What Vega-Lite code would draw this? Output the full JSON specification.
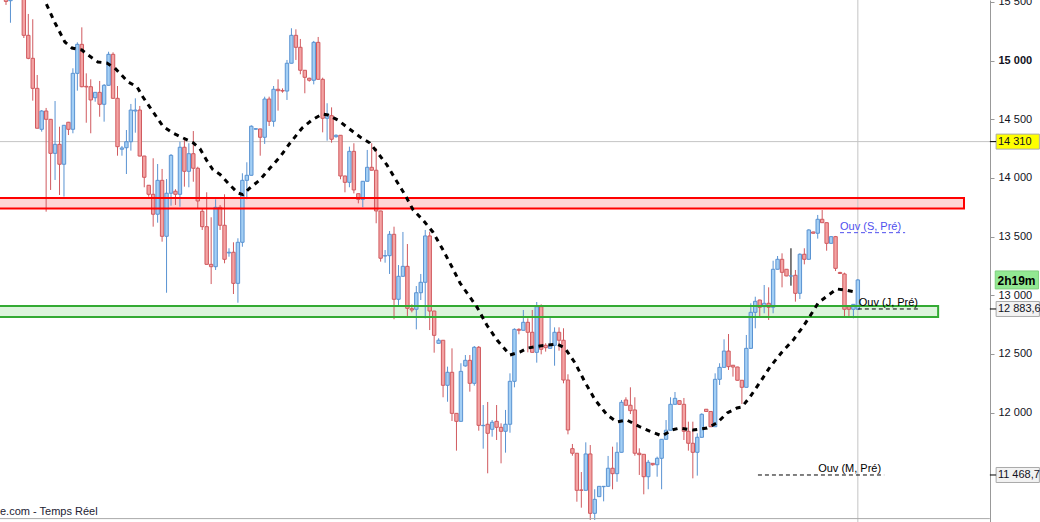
{
"$schema":"https://vega.github.io/schema/vega-lite/v6.json",
"width":1040,"height":522,"padding":0,"autosize":{"type":"none"},
"background":"white",
"config":{"view":{"stroke":null},"text":{"font":"Liberation Sans"}},
"datasets":{
"candles":[
{"i":0,"o":15545,"h":15560,"l":15475,"c":15505},{"i":1,"o":15511,"h":15610,"l":15323,"c":15590},{"i":2,"o":15580,"h":15730,"l":15550,"c":15700},{"i":3,"o":15700,"h":15720,"l":15560,"c":15640},
{"i":4,"o":15640,"h":15660,"l":15193,"c":15216},{"i":5,"o":15216,"h":15398,"l":15012,"c":15020},{"i":6,"o":15020,"h":15353,"l":14659,"c":14764},{"i":7,"o":14764,"h":14878,"l":14424,"c":14424},
{"i":8,"o":14415,"h":14579,"l":14395,"c":14571},{"i":9,"o":14571,"h":14597,"l":13713,"c":14500},{"i":10,"o":14500,"h":14503,"l":13898,"c":14210},{"i":11,"o":14210,"h":14656,"l":13983,"c":14287},
{"i":12,"o":14287,"h":14437,"l":13855,"c":14117},{"i":13,"o":14117,"h":14452,"l":13841,"c":14449},{"i":14,"o":14475,"h":14478,"l":14366,"c":14415},{"i":15,"o":14415,"h":14935,"l":14381,"c":14892},
{"i":16,"o":14892,"h":15156,"l":14744,"c":15139},{"i":17,"o":15139,"h":15284,"l":14773,"c":14778},{"i":18,"o":14781,"h":14892,"l":14471,"c":14776},{"i":19,"o":14778,"h":14841,"l":14381,"c":14665},
{"i":20,"o":14684,"h":14732,"l":14650,"c":14730},{"i":21,"o":14730,"h":14827,"l":14522,"c":14628},{"i":22,"o":14628,"h":14801,"l":14480,"c":14790},{"i":23,"o":14790,"h":15076,"l":14788,"c":15054},
{"i":24,"o":15054,"h":15071,"l":14677,"c":14679},{"i":25,"o":14679,"h":14784,"l":14190,"c":14267},{"i":26,"o":14245,"h":14273,"l":14190,"c":14256},{"i":27,"o":14258,"h":14409,"l":14034,"c":14309},
{"i":28,"o":14309,"h":14631,"l":14233,"c":14579},{"i":29,"o":14571,"h":14679,"l":14386,"c":14579},{"i":30,"o":14579,"h":14614,"l":14185,"c":14187},{"i":31,"o":14187,"h":14189,"l":13921,"c":14006},
{"i":32,"o":13938,"h":13940,"l":13841,"c":13861},{"i":33,"o":13861,"h":14168,"l":13585,"c":13691},{"i":34,"o":13691,"h":14119,"l":13619,"c":13980},{"i":35,"o":13980,"h":14077,"l":13457,"c":13503},
{"i":36,"o":13503,"h":13991,"l":13022,"c":13870},{"i":37,"o":13870,"h":14204,"l":13764,"c":14193},{"i":38,"o":13887,"h":13904,"l":13770,"c":13861},{"i":39,"o":13861,"h":14309,"l":13755,"c":14262},
{"i":40,"o":14262,"h":14338,"l":13926,"c":14057},{"i":41,"o":14057,"h":14296,"l":13921,"c":14207},{"i":42,"o":14207,"h":14400,"l":13968,"c":14083},{"i":43,"o":14083,"h":14096,"l":13742,"c":13804},
{"i":44,"o":13716,"h":13742,"l":13557,"c":13585},{"i":45,"o":13585,"h":13878,"l":13262,"c":13264},{"i":46,"o":13264,"h":13665,"l":13096,"c":13244},{"i":47,"o":13244,"h":13818,"l":13216,"c":13750},
{"i":48,"o":13750,"h":13770,"l":13557,"c":13597},{"i":49,"o":13597,"h":13861,"l":13273,"c":13307},{"i":50,"o":13361,"h":13401,"l":13329,"c":13367},{"i":51,"o":13367,"h":13452,"l":13011,"c":13102},
{"i":52,"o":13102,"h":13486,"l":12937,"c":13452},{"i":53,"o":13452,"h":14040,"l":13414,"c":13980},{"i":54,"o":13980,"h":14134,"l":13818,"c":14023},{"i":55,"o":14023,"h":14449,"l":14021,"c":14441},
{"i":56,"o":14416,"h":14424,"l":14412,"c":14420},{"i":57,"o":14418,"h":14420,"l":14190,"c":14347},{"i":58,"o":14347,"h":14693,"l":14290,"c":14673},{"i":59,"o":14673,"h":14693,"l":14443,"c":14483},
{"i":60,"o":14483,"h":14784,"l":14437,"c":14756},{"i":61,"o":14756,"h":14841,"l":14574,"c":14744},{"i":62,"o":14746,"h":14764,"l":14727,"c":14741},{"i":63,"o":14741,"h":15006,"l":14665,"c":14978},
{"i":64,"o":14978,"h":15276,"l":14976,"c":15216},{"i":65,"o":15216,"h":15267,"l":15006,"c":15114},{"i":66,"o":15114,"h":15185,"l":14884,"c":14918},{"i":67,"o":14918,"h":14920,"l":14722,"c":14858},
{"i":68,"o":14850,"h":14855,"l":14821,"c":14833},{"i":69,"o":14833,"h":15168,"l":14798,"c":15156},{"i":70,"o":15156,"h":15202,"l":14839,"c":14841},{"i":71,"o":14841,"h":14855,"l":14389,"c":14509},
{"i":72,"o":14509,"h":14637,"l":14318,"c":14543},{"i":73,"o":14531,"h":14602,"l":14301,"c":14330},{"i":74,"o":14352,"h":14372,"l":14343,"c":14364},{"i":75,"o":14364,"h":14366,"l":13989,"c":14017},
{"i":76,"o":14017,"h":14019,"l":13878,"c":13963},{"i":77,"o":13963,"h":14267,"l":13921,"c":14227},{"i":78,"o":14227,"h":14296,"l":13869,"c":13898},{"i":79,"o":13866,"h":13868,"l":13784,"c":13818},
{"i":80,"o":13818,"h":13974,"l":13750,"c":13972},{"i":81,"o":13972,"h":14239,"l":13970,"c":14091},{"i":82,"o":14091,"h":14296,"l":14064,"c":14066},{"i":83,"o":14066,"h":14253,"l":13614,"c":13719},
{"i":84,"o":13719,"h":13721,"l":13287,"c":13316},{"i":85,"o":13335,"h":13386,"l":13278,"c":13338},{"i":86,"o":13338,"h":13548,"l":13182,"c":13520},{"i":87,"o":13520,"h":13585,"l":12796,"c":12966},
{"i":88,"o":12966,"h":13258,"l":12917,"c":13162},{"i":89,"o":13162,"h":13540,"l":13160,"c":13247},{"i":90,"o":13247,"h":13437,"l":12824,"c":12889},{"i":91,"o":12886,"h":12923,"l":12855,"c":12875},
{"i":92,"o":12881,"h":13079,"l":12710,"c":13022},{"i":93,"o":13022,"h":13182,"l":12960,"c":13111},{"i":94,"o":13111,"h":13557,"l":12804,"c":13506},{"i":95,"o":13506,"h":13542,"l":12704,"c":12866},
{"i":96,"o":12866,"h":12868,"l":12511,"c":12659},{"i":97,"o":12591,"h":12634,"l":12589,"c":12617},{"i":98,"o":12617,"h":12619,"l":12131,"c":12233},{"i":99,"o":12233,"h":12392,"l":12093,"c":12344},
{"i":100,"o":12344,"h":12548,"l":11929,"c":11994},{"i":101,"o":11994,"h":11996,"l":11676,"c":11926},{"i":102,"o":11926,"h":12421,"l":11924,"c":12352},{"i":103,"o":12398,"h":12491,"l":12392,"c":12446},
{"i":104,"o":12446,"h":12491,"l":12179,"c":12250},{"i":105,"o":12250,"h":12568,"l":12230,"c":12557},{"i":106,"o":12557,"h":12568,"l":11846,"c":11892},{"i":107,"o":11889,"h":12065,"l":11693,"c":11892},
{"i":108,"o":11901,"h":12091,"l":11483,"c":11824},{"i":109,"o":11858,"h":11937,"l":11795,"c":11918},{"i":110,"o":11926,"h":12065,"l":11767,"c":11875},{"i":111,"o":11875,"h":11909,"l":11568,"c":11841},
{"i":112,"o":11841,"h":12023,"l":11659,"c":11901},{"i":113,"o":11901,"h":12335,"l":11829,"c":12267},{"i":114,"o":12267,"h":12719,"l":12216,"c":12710},{"i":115,"o":12710,"h":12719,"l":12668,"c":12702},
{"i":116,"o":12702,"h":12875,"l":12700,"c":12770},{"i":117,"o":12770,"h":12804,"l":12514,"c":12685},{"i":118,"o":12685,"h":12875,"l":12512,"c":12514},{"i":119,"o":12514,"h":12943,"l":12426,"c":12903},
{"i":120,"o":12903,"h":12923,"l":12497,"c":12540},{"i":121,"o":12574,"h":12591,"l":12520,"c":12554},{"i":122,"o":12548,"h":12809,"l":12546,"c":12574},{"i":123,"o":12574,"h":12727,"l":12400,"c":12685},
{"i":124,"o":12685,"h":12727,"l":12528,"c":12617},{"i":125,"o":12617,"h":12719,"l":12250,"c":12278},{"i":126,"o":12278,"h":12327,"l":11815,"c":11852},{"i":127,"o":11693,"h":11733,"l":11633,"c":11654},
{"i":128,"o":11654,"h":11656,"l":11241,"c":11338},{"i":129,"o":11341,"h":11494,"l":11190,"c":11338},{"i":130,"o":11338,"h":11747,"l":11336,"c":11648},{"i":131,"o":11648,"h":11724,"l":11085,"c":11142},
{"i":132,"o":11142,"h":11347,"l":11085,"c":11261},{"i":133,"o":11284,"h":11374,"l":11282,"c":11372},{"i":134,"o":11369,"h":11374,"l":11244,"c":11372},{"i":135,"o":11372,"h":11631,"l":11370,"c":11526},
{"i":136,"o":11526,"h":11710,"l":11347,"c":11480},{"i":137,"o":11480,"h":11747,"l":11411,"c":11662},{"i":138,"o":11662,"h":12108,"l":11660,"c":12088},{"i":139,"o":12108,"h":12131,"l":12061,"c":12063},
{"i":140,"o":12063,"h":12216,"l":11988,"c":12017},{"i":141,"o":12023,"h":12131,"l":11633,"c":11654},{"i":142,"o":11654,"h":11696,"l":11469,"c":11642},{"i":143,"o":11645,"h":11647,"l":11304,"c":11454},
{"i":144,"o":11454,"h":11597,"l":11347,"c":11577},{"i":145,"o":11568,"h":11570,"l":11548,"c":11556},{"i":146,"o":11556,"h":11625,"l":11454,"c":11611},{"i":147,"o":11611,"h":11775,"l":11347,"c":11773},
{"i":148,"o":11773,"h":11937,"l":11771,"c":11850},{"i":149,"o":11850,"h":12131,"l":11848,"c":12071},{"i":150,"o":12071,"h":12176,"l":12069,"c":12122},{"i":151,"o":12102,"h":12104,"l":12069,"c":12071},
{"i":152,"o":12071,"h":12125,"l":11767,"c":11841},{"i":153,"o":11841,"h":11923,"l":11676,"c":11739},{"i":154,"o":11739,"h":11923,"l":11440,"c":11662},{"i":155,"o":11662,"h":11824,"l":11463,"c":11790},
{"i":156,"o":11790,"h":11994,"l":11788,"c":11986},{"i":157,"o":12029,"h":12031,"l":12008,"c":12010},{"i":158,"o":12010,"h":12012,"l":11878,"c":11880},{"i":159,"o":11880,"h":12335,"l":11878,"c":12284},
{"i":160,"o":12284,"h":12421,"l":12236,"c":12386},{"i":161,"o":12386,"h":12625,"l":12384,"c":12525},{"i":162,"o":12525,"h":12670,"l":12364,"c":12392},{"i":163,"o":12404,"h":12406,"l":12307,"c":12389},
{"i":164,"o":12389,"h":12391,"l":12274,"c":12276},{"i":165,"o":12276,"h":12278,"l":12074,"c":12216},{"i":166,"o":12216,"h":12662,"l":12214,"c":12548},{"i":167,"o":12548,"h":12932,"l":12546,"c":12855},
{"i":168,"o":12855,"h":12988,"l":12719,"c":12949},{"i":169,"o":12960,"h":12962,"l":12818,"c":12898},{"i":170,"o":12903,"h":13088,"l":12847,"c":12932},{"i":171,"o":12932,"h":13068,"l":12790,"c":12898},
{"i":172,"o":12898,"h":13295,"l":12847,"c":13222},{"i":173,"o":13222,"h":13335,"l":13220,"c":13307},{"i":174,"o":13307,"h":13358,"l":13068,"c":13196},{"i":175,"o":13222,"h":13224,"l":13163,"c":13165},
{"i":176,"o":13165,"h":13401,"l":13082,"c":13165},{"i":177,"o":13171,"h":13216,"l":12946,"c":13017},{"i":178,"o":13017,"h":13358,"l":12969,"c":13350},{"i":179,"o":13350,"h":13401,"l":13264,"c":13307},
{"i":180,"o":13307,"h":13563,"l":13305,"c":13557},{"i":181,"o":13540,"h":13542,"l":13527,"c":13529},{"i":182,"o":13529,"h":13685,"l":13483,"c":13648},{"i":183,"o":13648,"h":13727,"l":13617,"c":13619},
{"i":184,"o":13619,"h":13621,"l":13380,"c":13443},{"i":185,"o":13443,"h":13502,"l":13441,"c":13500},{"i":186,"o":13500,"h":13506,"l":13207,"c":13230},{"i":187,"o":13195,"h":13200,"l":13182,"c":13186},
{"i":188,"o":13182,"h":13193,"l":12813,"c":12881},{"i":189,"o":12903,"h":12905,"l":12818,"c":12881},{"i":190,"o":12881,"h":12925,"l":12804,"c":12923},{"i":191,"o":12881,"h":13139,"l":12879,"c":13131}
],
"ma":[
{"i":8.2,"v":15560},{"i":8.63,"v":15517},{"i":11.0,"v":15321},{"i":13.2,"v":15159},{"i":14.8,"v":15108},{"i":17.0,"v":15091},{"i":18.4,"v":15048},{"i":20.6,"v":14989},{"i":22.6,"v":14980},{"i":24.4,"v":14937},{"i":27.4,"v":14818},{"i":29.4,"v":14776},{"i":30.7,"v":14690},{"i":33.0,"v":14562},{"i":35.2,"v":14440},{"i":37.4,"v":14383},{"i":39.5,"v":14345},{"i":41.9,"v":14302},{"i":43.5,"v":14250},{"i":45.0,"v":14150},{"i":46.4,"v":14070},{"i":48.0,"v":14030},{"i":50.2,"v":13940},{"i":52.0,"v":13872},{"i":53.1,"v":13858},{"i":54.7,"v":13915},{"i":56.9,"v":13983},{"i":59.2,"v":14085},{"i":61.4,"v":14179},{"i":63.7,"v":14298},{"i":66.4,"v":14426},{"i":68.6,"v":14494},{"i":70.9,"v":14545},{"i":72.2,"v":14537},{"i":74.4,"v":14494},{"i":76.7,"v":14426},{"i":79.4,"v":14349},{"i":81.6,"v":14298},{"i":83.2,"v":14221},{"i":85.4,"v":14111},{"i":87.7,"v":13966},{"i":89.5,"v":13855},{"i":91.3,"v":13727},{"i":93.5,"v":13642},{"i":95.7,"v":13540},{"i":98.0,"v":13386},{"i":100.0,"v":13241},{"i":101.8,"v":13105},{"i":104.0,"v":12986},{"i":105.6,"v":12900},{"i":107.8,"v":12747},{"i":110.1,"v":12619},{"i":113.0,"v":12491},{"i":115.2,"v":12517},{"i":117.0,"v":12551},{"i":119.7,"v":12568},{"i":123.5,"v":12585},{"i":125.3,"v":12551},{"i":127.6,"v":12423},{"i":129.8,"v":12261},{"i":132.1,"v":12108},{"i":134.8,"v":11980},{"i":137.0,"v":11920},{"i":139.2,"v":11937},{"i":142.2,"v":11878},{"i":144.8,"v":11835},{"i":147.1,"v":11801},{"i":149.3,"v":11852},{"i":151.1,"v":11869},{"i":154.0,"v":11852},{"i":157.2,"v":11869},{"i":159.4,"v":11912},{"i":161.7,"v":11997},{"i":163.9,"v":12040},{"i":165.0,"v":12048},{"i":166.8,"v":12133},{"i":169.1,"v":12261},{"i":171.3,"v":12389},{"i":174.0,"v":12517},{"i":176.5,"v":12619},{"i":178.5,"v":12721},{"i":180.0,"v":12807},{"i":182.1,"v":12935},{"i":184.1,"v":12994},{"i":186.3,"v":13054},{"i":188.1,"v":13045},{"i":190.4,"v":13028}
],
"zones":[{"name":"res","lo":13740,"hi":13830,"a":-3,"b":214.8},{"name":"sup","lo":12815,"hi":12910,"a":-3,"b":209}],
"refs":[{"label":"Ouv (S, Pré)","v":13534,"a":187,"b":201.6,"t":187,"kind":"S"},{"label":"Ouv (J, Pré)","v":12883.6,"a":191,"b":204.5,"t":191.2,"kind":"J"},{"label":"Ouv (M, Pré)","v":11468.7,"a":168.6,"b":196.9,"t":182.1,"kind":"M"}],
"boxes":[{"label":"14 310","v":14310,"kind":"y"},{"label":"12 883,6","v":12883.6,"kind":"w"},{"label":"11 468,7","v":11468.7,"kind":"w"}],
"timer":[{"label":"2h19m","v":13131}],
"hline":[{"v":14310}],
"vline":[{"i":191}],
"footer":[{"label":"e.com - Temps Réel"}]
},
"layer":[
{"data":{"name":"zones"},"mark":{"type":"rect","clip":true},
 "encoding":{"x":{"field":"a","type":"quantitative","scale":{"domain":[-1.345,231.84],"nice":false,"zero":false,"padding":0},"axis":null},"x2":{"field":"b"},
 "y":{"field":"lo","type":"quantitative","scale":{"domain":[11068,15517],"nice":false,"zero":false,"padding":0},
  "axis":{"orient":"right","offset":-50,"values":[12000,12500,13000,13500,14000,14500,15000,15500],"labelExpr":"replace(format(datum.value, ',d'), ',', ' ')","tickSize":4,"tickColor":"#999999","domainColor":"#999999","labelFontSize":11,"labelFont":"Liberation Sans","labelColor":"#111122","labelPadding":4,"grid":false,"title":null,"labelOverlap":false,"labelFlush":false,"labelBound":false,"labelFontWeight":{"condition":{"test":"datum.value == 15000","value":"bold"},"value":"normal"}}},
 "y2":{"field":"hi"},
 "fill":{"condition":{"test":"datum.name=='res'","value":"#ffd6d6"},"value":"#dcf4dc"}}},
{"data":{"name":"hline"},"mark":{"type":"rule","color":"#c4c4c4","strokeWidth":1},
 "encoding":{"x":{"datum":-1.345,"type":"quantitative"},"x2":{"datum":222},"y":{"field":"v","type":"quantitative"}}},
{"data":{"name":"vline"},"mark":{"type":"rule","color":"#c4c4c4","strokeWidth":1},
 "encoding":{"x":{"field":"i","type":"quantitative"},"y":{"datum":11068,"type":"quantitative"},"y2":{"datum":15517}}},
{"data":{"name":"candles"},"mark":{"type":"rule","strokeWidth":1,"clip":true},
 "encoding":{"x":{"field":"i","type":"quantitative"},"y":{"field":"l","type":"quantitative"},"y2":{"field":"h"},
 "stroke":{"condition":[{"test":"datum.c==datum.o","value":"#000000"},{"test":"datum.c>datum.o","value":"#5a93d2"}],"value":"#d05a5f"}}},
{"data":{"name":"candles"},"mark":{"type":"bar","width":3.4,"strokeWidth":1,"clip":true},
 "encoding":{"x":{"field":"i","type":"quantitative"},
 "y":{"field":"o","type":"quantitative"},
 "y2":{"field":"c"},
 "fill":{"condition":[{"test":"datum.c==datum.o","value":"#000000"},{"test":"datum.c>datum.o","value":"#a3cff5"}],"value":"#f4a3a3"},
 "stroke":{"condition":[{"test":"datum.c==datum.o","value":"#5a93d2"},{"test":"datum.c>datum.o","value":"#5a93d2"}],"value":"#d05a5f"}}},
{"data":{"name":"zones"},"mark":{"type":"rect","fillOpacity":0,"strokeWidth":2,"clip":true},
 "encoding":{"x":{"field":"a","type":"quantitative"},"x2":{"field":"b"},"y":{"field":"lo","type":"quantitative"},"y2":{"field":"hi"},
 "stroke":{"condition":{"test":"datum.name=='res'","value":"#ff0000"},"value":"#33aa33"}}},
{"data":{"name":"ma"},"mark":{"type":"line","color":"#000000","strokeWidth":3,"strokeDash":[5,5],"clip":true},
 "encoding":{"x":{"field":"i","type":"quantitative"},"y":{"field":"v","type":"quantitative"}}},
{"data":{"name":"refs"},"mark":{"type":"rule","strokeWidth":1,"strokeDash":[4,3]},
 "encoding":{"x":{"field":"a","type":"quantitative"},"x2":{"field":"b"},"y":{"field":"v","type":"quantitative"},
 "stroke":{"condition":{"test":"datum.kind=='S'","value":"#5050ee"},"value":"#000000"}}},
{"data":{"name":"refs"},"mark":{"type":"text","align":"left","baseline":"bottom","fontSize":11,"dy":-1},
 "encoding":{"x":{"field":"t","type":"quantitative"},"y":{"field":"v","type":"quantitative"},"text":{"field":"label"},
 "color":{"condition":{"test":"datum.kind=='S'","value":"#5050ee"},"value":"#000000"}}},
{"data":{"name":"boxes"},"mark":{"type":"bar","height":15,"strokeWidth":1,"stroke":"#aaaaaa"},
 "encoding":{"x":{"datum":222,"type":"quantitative"},"x2":{"datum":231.7},"y":{"field":"v","type":"quantitative"},
 "fill":{"condition":{"test":"datum.kind=='y'","value":"#ffff00"},"value":"#f2f2f2"}}},
{"data":{"name":"boxes"},"mark":{"type":"rule","color":"#000000","strokeWidth":1},
 "encoding":{"x":{"datum":220.6,"type":"quantitative"},"x2":{"datum":222},"y":{"field":"v","type":"quantitative"}}},
{"data":{"name":"boxes"},"mark":{"type":"text","align":"left","baseline":"middle","fontSize":11,"color":"#111122"},
 "encoding":{"x":{"datum":222.4,"type":"quantitative"},"y":{"field":"v","type":"quantitative"},"text":{"field":"label"}}},
{"data":{"name":"timer"},"mark":{"type":"bar","height":18,"fill":"#92e892","stroke":"#7fcf7f","strokeWidth":1},
 "encoding":{"x":{"datum":221.8,"type":"quantitative"},"x2":{"datum":231.5},"y":{"field":"v","type":"quantitative"}}},
{"data":{"name":"timer"},"mark":{"type":"text","align":"left","baseline":"middle","fontSize":12,"fontWeight":"bold","color":"#000000","dy":1},
 "encoding":{"x":{"datum":222.3,"type":"quantitative"},"y":{"field":"v","type":"quantitative"},"text":{"field":"label"}}},
{"data":{"name":"footer"},"mark":{"type":"rule","color":"#aaaaaa","strokeWidth":1},
 "encoding":{"x":{"datum":-1.345,"type":"quantitative"},"x2":{"datum":220.6},"y":{"datum":11097,"type":"quantitative"}}},
{"data":{"name":"footer"},"mark":{"type":"text","align":"left","baseline":"bottom","fontSize":11,"color":"#222233","dy":-2},
 "encoding":{"x":{"datum":-1.345,"type":"quantitative"},"y":{"datum":11097,"type":"quantitative"},"text":{"field":"label"}}}
]
}
